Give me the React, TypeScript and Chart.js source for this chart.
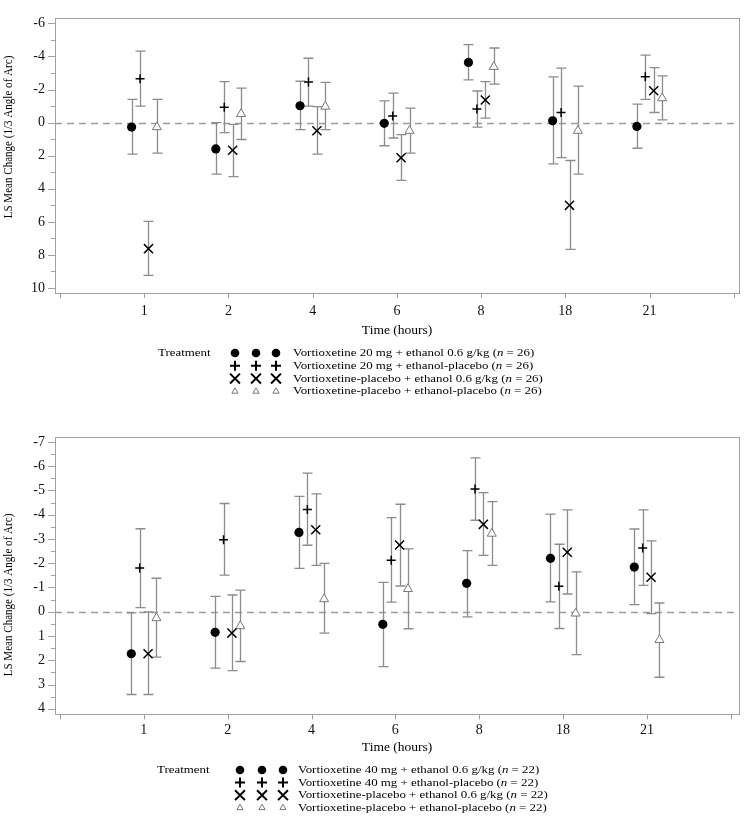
import { useEffect, useRef } from "react"
import { Chart, registerables } from "chart.js"
import { drawPoint } from "chart.js/helpers"

Chart.register(...registerables)

const FONT = '"Liberation Serif", "Times New Roman", serif'

const timeLabels = ["1", "2", "4", "6", "8", "18", "21"]

// upper panel: vortioxetine 20 mg, n = 26
const topN = 26
const topYTicks = [-6, -4, -2, 0, 2, 4, 6, 8, 10]
const topSeriesNames = [
  "Vortioxetine 20 mg + ethanol 0.6 g/kg",
  "Vortioxetine 20 mg + ethanol-placebo",
  "Vortioxetine-placebo + ethanol 0.6 g/kg",
  "Vortioxetine-placebo + ethanol-placebo",
]
const top20EthMean = [0.27, 1.59, -1.02, 0.04, -3.64, -0.11, 0.23]
const top20EthLow = [-1.4, 0.0, -2.5, -1.31, -4.72, -2.77, -1.12]
const top20EthHigh = [1.9, 3.11, 0.42, 1.4, -2.58, 2.5, 1.55]
const top20PlbMean = [-2.65, -0.93, -2.45, -0.4, -0.82, -0.61, -2.77]
const top20PlbLow = [-4.32, -2.48, -3.89, -1.78, -1.91, -3.3, -4.08]
const top20PlbHigh = [-1.0, 0.6, -1.0, 0.93, 0.27, 2.12, -1.4]
const topPlbEthMean = [7.62, 1.67, 0.49, 2.12, -1.37, 5.0, -1.93]
const topPlbEthLow = [5.97, 0.11, -0.97, 0.72, -2.48, 2.29, -3.32]
const topPlbEthHigh = [9.23, 3.26, 1.91, 3.49, -0.27, 7.66, -0.61]
const topPlbPlbMean = [0.27, -0.53, -0.97, 0.49, -3.37, 0.49, -1.48]
const topPlbPlbLow = [-1.4, -2.09, -2.43, -0.87, -4.51, -2.2, -2.82]
const topPlbPlbHigh = [1.84, 1.02, 0.42, 1.84, -2.33, 3.11, -0.17]

// lower panel: vortioxetine 40 mg, n = 22
const bottomN = 22
const bottomYTicks = [-7, -6, -5, -4, -3, -2, -1, 0, 1, 2, 3, 4]
const bottomSeriesNames = [
  "Vortioxetine 40 mg + ethanol 0.6 g/kg",
  "Vortioxetine 40 mg + ethanol-placebo",
  "Vortioxetine-placebo + ethanol 0.6 g/kg",
  "Vortioxetine-placebo + ethanol-placebo",
]
const bot40EthMean = [1.73, 0.85, -3.27, 0.52, -1.17, -2.2, -1.84]
const bot40EthLow = [0.05, -0.63, -4.75, -1.21, -2.52, -4.02, -3.41]
const bot40EthHigh = [3.41, 2.32, -1.79, 2.26, 0.21, -0.41, -0.29]
const bot40PlbMean = [-1.8, -2.97, -4.21, -2.12, -5.06, -1.05, -2.63]
const bot40PlbLow = [-3.42, -4.46, -5.71, -3.88, -6.34, -2.78, -4.2]
const bot40PlbHigh = [-0.17, -1.51, -2.74, -0.4, -3.77, 0.69, -1.09]
const botPlbEthMean = [1.73, 0.88, -3.38, -2.75, -3.6, -2.45, -1.42]
const botPlbEthLow = [0.01, -0.69, -4.86, -4.43, -4.91, -4.2, -2.92]
const botPlbEthHigh = [3.41, 2.43, -1.91, -1.06, -2.32, -0.73, 0.08]
const botPlbPlbMean = [0.26, 0.59, -0.52, -0.94, -3.22, 0.07, 1.16]
const botPlbPlbLow = [-1.38, -0.89, -1.99, -2.59, -4.54, -1.64, -0.36]
const botPlbPlbHigh = [1.87, 2.05, 0.88, 0.7, -1.91, 1.77, 2.7]

// marker look per treatment (data marker, legend marker)
const markerOffsets = [-0.15, -0.05, 0.05, 0.15]
const markerStyles = [
  { pointStyle: "circle", radius: 4.6, lw: 0, stroke: "#000", fill: "#000", legendRadius: 4.3, legendLw: 0 },
  { pointStyle: "cross", radius: 4.5, lw: 1.5, stroke: "#000", fill: "#000", legendRadius: 5, legendLw: 2 },
  { pointStyle: "crossRot", radius: 6.4, lw: 1.5, stroke: "#000", fill: "#000", legendRadius: 7, legendLw: 2 },
  { pointStyle: "triangle", radius: 5.2, lw: 1, stroke: "#777", fill: "#fff", legendRadius: 3.6, legendLw: 1 },
]

function squashText(ctx: CanvasRenderingContext2D, text: string, x: number, y: number, sy: number) {
  ctx.save()
  ctx.translate(x, y)
  ctx.scale(1, sy)
  ctx.fillText(text, 0, 0)
  ctx.restore()
}

const panelDecor = {
  id: "panelDecor",
  beforeDatasetsDraw(chart: any) {
    const { ctx, chartArea: a, scales } = chart
    const x = scales.x
    const y = scales.y
    ctx.save()
    // reference line at zero
    const y0 = Math.round(y.getPixelForValue(0)) + 0.5
    ctx.strokeStyle = "#9a9a9a"
    ctx.lineWidth = 1.5
    ctx.setLineDash([7, 5])
    ctx.beginPath()
    ctx.moveTo(a.left, y0)
    ctx.lineTo(a.right, y0)
    ctx.stroke()
    ctx.setLineDash([])

    // error bars
    ctx.strokeStyle = "#8c8c8c"
    ctx.lineWidth = 1.3
    chart.data.datasets.forEach((ds: any) => {
      ds.data.forEach((p: any, i: number) => {
        const px = Math.round(x.getPixelForValue(p.x)) + 0.5
        const yl = y.getPixelForValue(ds.errLow[i])
        const yh = y.getPixelForValue(ds.errHigh[i])
        ctx.beginPath()
        ctx.moveTo(px, yl)
        ctx.lineTo(px, yh)
        ctx.moveTo(px - 5, yl)
        ctx.lineTo(px + 5, yl)
        ctx.moveTo(px - 5, yh)
        ctx.lineTo(px + 5, yh)
        ctx.stroke()
      })
    })
    ctx.restore()
  },
  afterDraw(chart: any, _args: any, opts: any) {
    const { ctx, chartArea: a, scales } = chart
    const x = scales.x
    const y = scales.y
    ctx.save()

    // frame
    ctx.strokeStyle = "#a0a0a0"
    ctx.lineWidth = 1
    ctx.strokeRect(Math.round(a.left) + 0.5, Math.round(a.top) + 0.5, Math.round(a.width), Math.round(a.height))

    // tick marks
    ctx.beginPath()
    x.ticks.forEach((t: any) => {
      const px = Math.round(x.getPixelForValue(t.value)) + 0.5
      ctx.moveTo(px, a.bottom)
      ctx.lineTo(px, a.bottom + 5)
    })
    const vals = y.ticks.map((t: any) => t.value)
    vals.forEach((v: number, i: number) => {
      const py = Math.round(y.getPixelForValue(v)) + 0.5
      ctx.moveTo(a.left - 7, py)
      ctx.lineTo(a.left, py)
      if (i < vals.length - 1) {
        const pm = Math.round(y.getPixelForValue((v + vals[i + 1]) / 2)) + 0.5
        ctx.moveTo(a.left - 4, pm)
        ctx.lineTo(a.left, pm)
      }
    })
    ctx.stroke()

    // y axis title (narrow, like the source)
    ctx.fillStyle = "#000"
    ctx.font = `13px ${FONT}`
    ctx.textAlign = "center"
    ctx.textBaseline = "middle"
    ctx.save()
    ctx.translate(9, opts.yTitleY)
    ctx.rotate(-Math.PI / 2)
    ctx.scale(0.85, 1)
    ctx.fillText("LS Mean Change (1/3 Angle of Arc)", 0, 0)
    ctx.restore()

    // legend
    const fs = 12.9
    ctx.textAlign = "left"
    ctx.font = `${fs}px ${FONT}`
    squashText(ctx, "Treatment", opts.legendLabelX, opts.legendY, 0.88)
    chart.data.datasets.forEach((ds: any, r: number) => {
      const yy = opts.legendY + r * opts.legendGap
      const st = markerStyles[r]
      opts.legendSymbolX.forEach((sx: number) => {
        ctx.fillStyle = st.fill
        ctx.strokeStyle = st.stroke
        ctx.lineWidth = st.legendLw
        drawPoint(ctx, { pointStyle: st.pointStyle, radius: st.legendRadius, borderWidth: st.legendLw, rotation: 0 }, sx, yy)
      })
      ctx.fillStyle = "#000"
      let tx = opts.legendTextX
      const head = `${ds.label} (`
      ctx.font = `${fs}px ${FONT}`
      squashText(ctx, head, tx, yy, 0.88)
      tx += ctx.measureText(head).width
      ctx.font = `italic ${fs}px ${FONT}`
      squashText(ctx, "n", tx, yy, 0.88)
      tx += ctx.measureText("n").width
      ctx.font = `${fs}px ${FONT}`
      squashText(ctx, ` = ${opts.n})`, tx, yy, 0.88)
    })
    ctx.restore()
  },
}

type Series = { label: string; mean: number[]; low: number[]; high: number[] }

type PanelProps = {
  series: Series[]
  n: number
  yTicks: number[]
  yMin: number
  yMax: number
  xMax: number
  height: number
  padding: { top: number; left: number; right: number; bottom: number }
  xAxisHeight: number
  xTickPad: number
  yTitleY: number
  legendY: number
  legendGap: number
  legendLabelX: number
  legendSymbolX: number[]
  legendTextX: number
}

function ErrorBarPanel(props: PanelProps) {
  const chartRef = useRef<HTMLCanvasElement>(null)
  const chartInstance = useRef<Chart | null>(null)

  useEffect(() => {
    const canvas = chartRef.current
    if (!canvas) return
    if (chartInstance.current) chartInstance.current.destroy()

    const tickFont = { family: FONT, size: 14 }
    const xTickValues = [0, ...timeLabels.map((_, i) => i + 1), timeLabels.length + 1]

    chartInstance.current = new Chart(canvas, {
      type: "scatter",
      data: {
        datasets: props.series.map((s, k) => ({
          label: s.label,
          data: s.mean.map((v, i) => ({ x: i + 1 + markerOffsets[k], y: v })),
          errLow: s.low,
          errHigh: s.high,
          showLine: false,
          pointStyle: markerStyles[k].pointStyle,
          pointRadius: markerStyles[k].radius,
          pointBorderWidth: markerStyles[k].lw,
          pointBorderColor: markerStyles[k].stroke,
          pointBackgroundColor: markerStyles[k].fill,
        })) as any,
      },
      options: {
        responsive: false,
        animation: false,
        events: [],
        layout: { padding: props.padding },
        plugins: {
          legend: { display: false },
          tooltip: { enabled: false },
          panelDecor: {
            n: props.n,
            yTitleY: props.yTitleY,
            legendY: props.legendY,
            legendGap: props.legendGap,
            legendLabelX: props.legendLabelX,
            legendSymbolX: props.legendSymbolX,
            legendTextX: props.legendTextX,
          },
        } as any,
        scales: {
          x: {
            type: "linear",
            min: -0.06,
            max: props.xMax,
            grid: { display: false, drawTicks: false },
            border: { display: false },
            afterBuildTicks: (scale: any) => {
              scale.ticks = xTickValues.map((v) => ({ value: v }))
            },
            afterFit: (scale: any) => {
              scale.height = props.xAxisHeight
            },
            ticks: {
              autoSkip: false,
              maxRotation: 0,
              padding: props.xTickPad,
              color: "#111",
              font: tickFont,
              callback: (v: any) => timeLabels[Number(v) - 1] ?? "",
            },
            title: {
              display: true,
              text: "Time (hours)",
              color: "#000",
              font: { family: FONT, size: 13.5 },
              padding: { top: 0, bottom: 0 },
            },
          },
          y: {
            type: "linear",
            reverse: true,
            min: props.yMin,
            max: props.yMax,
            grid: { display: false, drawTicks: false },
            border: { display: false },
            afterBuildTicks: (scale: any) => {
              scale.ticks = props.yTicks.map((v) => ({ value: v }))
            },
            afterFit: (scale: any) => {
              scale.width = 55
            },
            ticks: {
              padding: 10,
              color: "#111",
              font: tickFont,
              callback: (v: any) => String(v),
            },
          },
        },
      },
      plugins: [panelDecor],
    })

    return () => {
      if (chartInstance.current) {
        chartInstance.current.destroy()
        chartInstance.current = null
      }
    }
  }, [])

  return <canvas ref={chartRef} width={747} height={props.height} style={{ display: "block" }} />
}

export default function App() {
  const topSeries: Series[] = [
    { label: topSeriesNames[0], mean: top20EthMean, low: top20EthLow, high: top20EthHigh },
    { label: topSeriesNames[1], mean: top20PlbMean, low: top20PlbLow, high: top20PlbHigh },
    { label: topSeriesNames[2], mean: topPlbEthMean, low: topPlbEthLow, high: topPlbEthHigh },
    { label: topSeriesNames[3], mean: topPlbPlbMean, low: topPlbPlbLow, high: topPlbPlbHigh },
  ]
  const bottomSeries: Series[] = [
    { label: bottomSeriesNames[0], mean: bot40EthMean, low: bot40EthLow, high: bot40EthHigh },
    { label: bottomSeriesNames[1], mean: bot40PlbMean, low: bot40PlbLow, high: bot40PlbHigh },
    { label: bottomSeriesNames[2], mean: botPlbEthMean, low: botPlbEthLow, high: botPlbEthHigh },
    { label: bottomSeriesNames[3], mean: botPlbPlbMean, low: botPlbPlbLow, high: botPlbPlbHigh },
  ]

  return (
    <div style={{ position: "absolute", left: 0, top: 0, width: 747, height: 817, background: "#fff", overflow: "hidden" }}>
      <ErrorBarPanel
        series={topSeries}
        n={topN}
        yTicks={topYTicks}
        yMin={-6.3}
        yMax={10.3}
        xMax={8.064}
        height={405}
        padding={{ top: 1, left: 0, right: 4, bottom: 66 }}
        xAxisHeight={46}
        xTickPad={9.5}
        yTitleY={137}
        legendY={353}
        legendGap={12.8}
        legendLabelX={158}
        legendSymbolX={[235, 256, 276]}
        legendTextX={293}
      />
      <ErrorBarPanel
        series={bottomSeries}
        n={bottomN}
        yTicks={bottomYTicks}
        yMin={-7.2}
        yMax={4.23}
        xMax={8.1}
        height={412}
        padding={{ top: 32, left: 0, right: 1, bottom: 61 }}
        xAxisHeight={41.6}
        xTickPad={7.5}
        yTitleY={190}
        legendY={365}
        legendGap={12.6}
        legendLabelX={157}
        legendSymbolX={[240, 262, 283]}
        legendTextX={298}
      />
    </div>
  )
}
